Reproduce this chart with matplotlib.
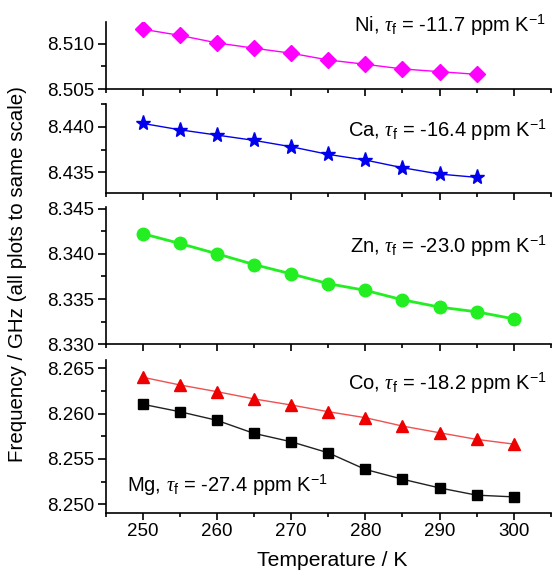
import matplotlib
matplotlib.use("Agg")
import matplotlib.pyplot as plt
from matplotlib.ticker import MultipleLocator, FormatStrFormatter

plt.rcParams['font.family'] = ['Liberation Sans', 'DejaVu Sans']
plt.rcParams['mathtext.fontset'] = 'custom'
plt.rcParams['mathtext.rm'] = 'Liberation Sans'
plt.rcParams['mathtext.it'] = 'Liberation Serif:italic'

temps = [250, 255, 260, 265, 270, 275, 280, 285, 290, 295, 300]
ni = [8.51158, 8.5109, 8.51008, 8.5095, 8.50895, 8.50821, 8.50774, 8.50723, 8.50693, 8.50664]
ca = [8.44037, 8.43967, 8.43909, 8.43851, 8.43781, 8.43697, 8.43635, 8.43551, 8.43481, 8.43445]
zn = [8.34222, 8.34114, 8.34000, 8.33881, 8.33778, 8.33670, 8.33596, 8.33492, 8.33411, 8.33359, 8.33281]
co = [8.26400, 8.26315, 8.26241, 8.26161, 8.26094, 8.26020, 8.25954, 8.25862, 8.25788, 8.25715, 8.25663]
mg = [8.26102, 8.26020, 8.25925, 8.25781, 8.25689, 8.25567, 8.25384, 8.25276, 8.25180, 8.25100, 8.25081]

labels = {
    'Ni': r'Ni, $\tau_{\mathrm{f}}$ = -11.7 ppm K$^{-1}$',
    'Ca': r'Ca, $\tau_{\mathrm{f}}$ = -16.4 ppm K$^{-1}$',
    'Zn': r'Zn, $\tau_{\mathrm{f}}$ = -23.0 ppm K$^{-1}$',
    'Co': r'Co, $\tau_{\mathrm{f}}$ = -18.2 ppm K$^{-1}$',
    'Mg': r'Mg, $\tau_{\mathrm{f}}$ = -27.4 ppm K$^{-1}$',
}

W, H = 552, 572
fig = plt.figure(figsize=(W / 100, H / 100), dpi=100)

def px_axes(top, bottom, left=105.6, right=550.8):
    return fig.add_axes([left / W, 1 - bottom / H, (right - left) / W, (bottom - top) / H])

ax1 = px_axes(21.7, 89.3)
ax2 = px_axes(104.0, 193.3)
ax3 = px_axes(206.7, 344.3)
ax4 = px_axes(360.0, 513.3)

ylims = [(8.505, 8.5124), (8.4327, 8.4425), (8.330, 8.3452), (8.2490, 8.2659)]

for ax, yl in zip([ax1, ax2, ax3, ax4], ylims):
    ax.set_xlim(245, 305)
    ax.set_ylim(*yl)
    ax.spines['top'].set_visible(False)
    ax.spines['right'].set_visible(False)
    for s in ['left', 'bottom']:
        ax.spines[s].set_linewidth(1.2)
    ax.xaxis.set_major_locator(MultipleLocator(10))
    ax.xaxis.set_minor_locator(MultipleLocator(5))
    ax.yaxis.set_major_locator(MultipleLocator(0.005))
    ax.yaxis.set_minor_locator(MultipleLocator(0.0025))
    ax.yaxis.set_major_formatter(FormatStrFormatter('%.3f'))
    ax.tick_params(axis='both', which='major', direction='out', length=6, width=1.2, labelsize=13.5, pad=2)
    ax.tick_params(axis='both', which='minor', direction='out', length=3.5, width=1.2)
    ax.tick_params(axis='x', which='major', length=5)
    ax.tick_params(axis='x', which='minor', length=3)
    if ax is not ax4:
        ax.tick_params(axis='x', labelbottom=False)

ax1.plot(temps[:10], ni, color='#ff00ff', lw=1.0, marker='D', ms=8, mec='#ff00ff', mfc='#ff00ff')
ax2.plot(temps[:10], ca, color='#0000ee', lw=1.0, marker='*', ms=11, mec='#0000ee', mfc='#0000ee')
ax3.plot(temps, zn, color='#22ee22', lw=2.0, marker='o', ms=9, mec='#22ee22', mfc='#22ee22')
ax4.plot(temps, co, color='#f05050', lw=1.0, marker='^', ms=9, mec='#ee0000', mfc='#ee0000')
ax4.plot(temps, mg, color='#202020', lw=1.0, marker='s', ms=7, mec='black', mfc='black')

fs = 14.5
ax1.text(0.99, 0.95, labels['Ni'], transform=ax1.transAxes, ha='right', va='center', fontsize=fs)
ax2.text(0.99, 0.70, labels['Ca'], transform=ax2.transAxes, ha='right', va='center', fontsize=fs)
ax3.text(0.99, 0.71, labels['Zn'], transform=ax3.transAxes, ha='right', va='center', fontsize=fs)
ax4.text(0.99, 0.85, labels['Co'], transform=ax4.transAxes, ha='right', va='center', fontsize=fs)
ax4.text(0.047, 0.18, labels['Mg'], transform=ax4.transAxes, ha='left', va='center', fontsize=fs)

fig.text(332 / W, 1 - 561 / H, 'Temperature / K', ha='center', va='center', fontsize=15.2)
fig.text(18 / W, 1 - 274 / H, 'Frequency / GHz (all plots to same scale)', rotation=90,
         ha='center', va='center', fontsize=14.8)

fig.savefig('out.png', dpi=100)
